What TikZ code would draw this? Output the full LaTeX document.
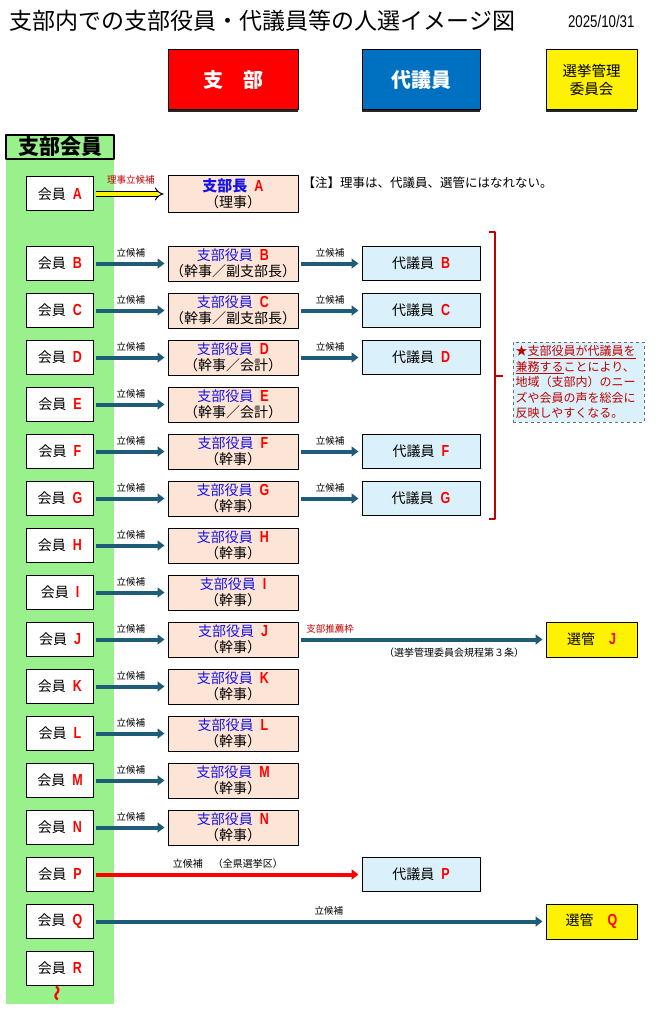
\documentclass[tikz,border=0pt]{standalone}
\usepackage{fontspec}
\setmainfont{Noto Sans CJK JP}
\newfontfamily\narrowfont[FakeStretch=0.78]{Liberation Sans}
\usetikzlibrary{arrows.meta,shadows}

\definecolor{shibured}{RGB}{255,0,0}
\definecolor{hdblue}{RGB}{0,112,192}
\definecolor{memgreen}{RGB}{153,240,140}
\definecolor{peach}{RGB}{252,228,214}
\definecolor{dlblue}{RGB}{218,240,250}
\definecolor{candarrow}{RGB}{31,92,122}
\definecolor{darkred}{RGB}{192,0,0}
\definecolor{ofblue}{RGB}{20,20,230}
\definecolor{notegray}{RGB}{110,110,110}

% red narrow letters A, B, ...
\newcommand\mletter[1]{{\narrowfont\bfseries\fontsize{16}{16}\selectfont\color{shibured}#1}}

\begin{document}
\begin{tikzpicture}[x=1pt, y=-1pt, line join=round,
    header/.style={draw, line width=1pt, minimum width=130, minimum height=60, inner sep=0,
      drop shadow={shadow xshift=0pt, shadow yshift=-2.5pt, fill=black!85, opacity=1}},
    member/.style={draw, fill=white, line width=1pt, minimum width=67, minimum height=34,
      font=\fontsize{14}{14}\selectfont},
    officer/.style={draw, fill=peach, line width=1pt, minimum width=130, minimum height=35,
      inner sep=0, align=center, font=\fontsize{14}{16}\selectfont},
    delegate/.style={draw, fill=dlblue, line width=1pt, minimum width=118, minimum height=34,
      font=\fontsize{14}{14}\selectfont},
    senkan/.style={draw, fill=yellow, line width=1pt, minimum width=91, minimum height=35,
      font=\fontsize{14}{14}\selectfont},
    cand/.style={draw=candarrow, line width=4pt, -{Triangle[length=7pt,width=10pt]},
      shorten <=2pt, shorten >=3pt},
    lab/.style={midway, above=3pt, inner sep=1pt, font=\fontsize{9.5}{10}\selectfont}]
  \useasboundingbox (0,0) rectangle (669,1024);

  \node[anchor=west, font=\fontsize{23}{23}\selectfont] (title) at (6,21)
    {支部内での支部役員・代議員等の人選イメージ図};
  \node[anchor=east, font=\narrowfont\fontsize{17}{17}\selectfont] (date) at (638,21) {2025/10/31};

  % headers
  \node[header, fill=shibured, text=white, font=\fontsize{20}{20}\selectfont\bfseries] (hshibu) at (233,80) {支\hspace{1em}部};
  \node[header, fill=hdblue, text=white, minimum width=118, font=\fontsize{20}{20}\selectfont\bfseries] (hdai) at (421,80) {代議員};
  \node[header, fill=yellow, minimum width=91, align=center, font=\fontsize{14.5}{18}\selectfont] (hsen) at (591.5,80) {選挙管理\\委員会};

  % member column
  \fill[memgreen] (6,159) rectangle (114,1004);
  \node[draw, fill=memgreen, line width=1.2pt, minimum width=108, minimum height=24, inner sep=0,
    font=\fontsize{21}{21}\selectfont\bfseries] (hmem) at (60,147) {支部会員};
  \foreach \l/\y in {A/194,B/263.5,C/310.5,D/357.5,E/404.5,F/451.5,G/498.5,H/545.5,I/592.5,
      J/639.5,K/686.5,L/733.5,M/780.5,N/827.5,P/874.5,Q/921.5,R/968.5}
    \node[member] (m\l) at (60,\y) {会員\hspace{.5em}\mletter{\l}};
  \node[text=shibured, font=\fontsize{16}{16}\selectfont\bfseries] (tilde) at (59,993) {\rotatebox{90}{～}};

  % officers
  \node[officer, minimum height=37] (oA) at (233,194)
    {{\color{ofblue}\bfseries\fontsize{15}{15}\selectfont 支部長}\hspace{.5em}\mletter{A}\\（理事）};
  \foreach \l/\y/\r in {B/263.5/幹事／副支部長,C/310.5/幹事／副支部長,D/357.5/幹事／会計,
      E/404.5/幹事／会計,F/451.5/幹事,G/498.5/幹事,H/545.5/幹事,I/592.5/幹事,J/639.5/幹事,
      K/686.5/幹事,L/733.5/幹事,M/780.5/幹事,N/827.5/幹事}
    \node[officer] (o\l) at (233,\y) {{\color{ofblue}支部役員}\hspace{.5em}\mletter{\l}\\（\r）};

  % delegates and election committee
  \foreach \l/\y in {B/263.5,C/310.5,D/357.5,F/451.5,G/498.5,P/874.5}
    \node[delegate] (d\l) at (421,\y) {代議員\hspace{.5em}\mletter{\l}};
  \node[senkan] (sJ) at (591.5,639.5) {選管\hspace{1em}\mletter{J}};
  \node[senkan] (sQ) at (591.5,921.5) {選管\hspace{1em}\mletter{Q}};

  \node[anchor=west, font=\fontsize{12.5}{13}\selectfont] (note) at (299,183)
    {【注】理事は、代議員、選管にはなれない。};

  % connectors
  \draw[double=yellow, double distance=3.5pt, line width=1pt, -{Implies}, shorten <=2pt, shorten >=4pt]
    (mA) -- node[lab, above=5pt, text=darkred]{理事立候補} (oA);
  \foreach \l in {B,C,D,E,F,G,H,I,J,K,L,M,N}
    \draw[cand] (m\l) -- node[lab]{立候補} (o\l);
  \foreach \l in {B,C,D,F,G}
    \draw[cand] (o\l) -- node[lab]{立候補} (d\l);
  \draw[cand] (oJ) -- node[lab, pos=0.02, anchor=south west, text=darkred]{支部推薦枠}
    node[pos=0.63, below=3pt, font=\fontsize{10}{10}\selectfont]{（選挙管理委員会規程第３条）} (sJ);
  \draw[cand, draw=shibured] (mP) -- node[lab, font=\fontsize{10}{10}\selectfont]{立候補\hspace{1em}（全県選挙区）} (dP);
  \draw[cand] (mQ) -- node[lab, pos=0.52]{立候補} (sQ);

  % bracket and remark
  \coordinate (bt) at (489,232);
  \coordinate (bb) at (489,519);
  \draw[darkred, line width=1.2pt] (bt) -- ++(6,0) |- (bb) (495,376) -- ++(8,0);
  \node[draw=notegray, dashed, fill=dlblue, line width=1pt, minimum width=131, minimum height=80,
    inner sep=2pt, text width=126, align=left, text=darkred, font=\fontsize{12}{15.5}\selectfont]
    (remark) at (578.5,382)
    {★\underline{支部役員が代議員を}\\\underline{兼務する}ことにより、\\地域（支部内）のニー\\ズや会員の声を総会に\\反映しやすくなる。};
\end{tikzpicture}
\end{document}
